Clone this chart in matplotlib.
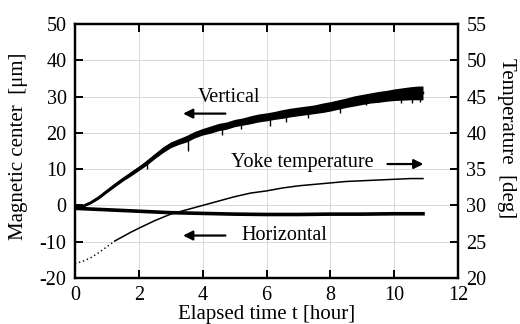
import numpy as np
import matplotlib.pyplot as plt

plt.rcParams['font.family'] = ['Liberation Serif', 'DejaVu Serif']
plt.rcParams['axes.unicode_minus'] = False

# elapsed time [hour]
t_vert = [0, 0.25, 0.5, 0.75, 1.0, 1.25, 1.5, 1.75, 2.0, 2.25, 2.5, 2.75, 3.0, 3.25,
          3.5, 3.75, 4.0, 4.25, 4.5, 4.75, 5.0, 5.25, 5.5, 5.75, 6.0, 6.25, 6.5, 6.75,
          7.0, 7.25, 7.5, 7.75, 8.0, 8.25, 8.5, 8.75, 9.0, 9.25, 9.5, 9.75, 10.0,
          10.25, 10.5, 10.75, 10.9]
vertical = [-0.5, -0.2, 0.8, 2.2, 3.9, 5.6, 7.2, 8.7, 10.2, 11.8, 13.6, 15.3, 16.7, 17.6,
            18.4, 19.5, 20.3, 20.9, 21.6, 22.0, 22.7, 23.1, 23.6, 24.1, 24.4, 24.8, 25.2, 25.6,
            25.9, 26.2, 26.5, 26.9, 27.3, 27.8, 28.3, 28.8, 29.2, 29.6, 29.9, 30.2, 30.5,
            30.7, 30.9, 31.0, 31.0]
vert_spread = [0.3, 0.3, 0.3, 0.4, 0.4, 0.5, 0.5, 0.6, 0.6, 0.7, 0.7, 0.8, 0.8, 0.8,
               0.9, 0.9, 0.9, 1.0, 1.0, 1.0, 1.0, 1.0, 1.1, 1.1, 1.1, 1.1, 1.2, 1.2,
               1.2, 1.2, 1.2, 1.3, 1.3, 1.3, 1.3, 1.4, 1.4, 1.4, 1.5, 1.5, 1.6,
               1.7, 1.8, 1.9, 1.9]
# downward spikes in the vertical signal
spike_t = [2.25, 3.55, 4.6, 5.2, 6.1, 6.6, 7.3, 8.3, 9.1, 10.2, 10.55, 10.8]
spike_low = [10.0, 15.0, 19.5, 21.0, 21.8, 23.0, 24.2, 25.4, 27.6, 28.3, 28.1, 28.4]

t_horiz = [0, 1, 2, 3, 4, 5, 6, 7, 8, 9, 10, 10.9]
horizontal = [-0.8, -1.2, -1.6, -2.0, -2.2, -2.4, -2.5, -2.5, -2.4, -2.4, -2.3, -2.3]

t_temp_early = [0, 0.25, 0.5, 0.75, 1.0, 1.25]
temp_early = [22.0, 22.3, 22.8, 23.5, 24.3, 25.1]
t_temp = [1.25, 1.5, 1.75, 2.0, 2.5, 3.0, 3.5, 4.0, 4.5, 5.0, 5.5, 6.0, 6.5, 7.0,
          7.5, 8.0, 8.5, 9.0, 9.5, 10.0, 10.5, 10.9]
temp = [25.1, 25.7, 26.3, 26.85, 27.9, 28.8, 29.4, 30.0, 30.6, 31.2, 31.7, 32.0, 32.4, 32.7,
        32.9, 33.1, 33.3, 33.4, 33.5, 33.6, 33.7, 33.7]

fig = plt.figure(figsize=(5.2, 3.24), dpi=100)
ax = fig.add_axes([0.144, 0.142, 0.737, 0.784])
ax2 = ax.twinx()

v = np.array(vertical)
s = np.array(vert_spread)
ax.fill_between(t_vert, v - s, v + s, color='black', lw=0)
ax.plot(t_vert, vertical, color='black', lw=1.8)
base = np.interp(spike_t, t_vert, vertical)
ax.vlines(spike_t, spike_low, base, color='black', lw=1.0)
ax.plot(t_horiz, horizontal, color='black', lw=2.6)

ax2.plot(t_temp_early, temp_early, color='black', lw=1.0, ls=(0, (1, 2)))
ax2.plot(t_temp, temp, color='black', lw=1.1)

ax.set_xlim(0, 12)
ax.set_ylim(-20, 50)
ax2.set_ylim(20, 55)
ax.set_xticks(range(0, 13, 2))
ax.set_yticks(range(-20, 51, 10))
ax2.set_yticks(range(20, 56, 5))

ax.grid(True, color='#d8d8d8', lw=0.7)
ax.set_axisbelow(True)
for a in (ax, ax2):
    for sp in a.spines.values():
        sp.set_linewidth(1.6)
ax.tick_params(direction='in', length=6, width=1.4, labelsize=14.5, top=True, pad=6)
ax2.tick_params(direction='in', length=6, width=1.4, labelsize=14.5, pad=6)

ax.set_xlabel('Elapsed time t [hour]', fontsize=15, labelpad=0)
ax.set_ylabel('Magnetic center  [μm]', fontsize=15, va='center')
ax.yaxis.set_label_coords(-0.148, 0.52)
ax2.set_ylabel('Temperature  [deg]', fontsize=15, rotation=-90, va='center')
ax2.yaxis.set_label_coords(1.125, 0.55)

arrow = dict(arrowstyle='-|>', color='black', lw=1.6, mutation_scale=14)
ax.text(3.85, 29.8, 'Vertical', fontsize=14.5, va='center')
ax.annotate('', xy=(3.3, 25.3), xytext=(4.8, 25.3), arrowprops=arrow)
ax.text(4.9, 11.8, 'Yoke temperature', fontsize=14.5, va='center')
ax.annotate('', xy=(11.0, 11.4), xytext=(9.7, 11.4), arrowprops=arrow)
ax.text(5.2, -8.3, 'Horizontal', fontsize=14.5, va='center')
ax.annotate('', xy=(3.3, -8.3), xytext=(4.8, -8.3), arrowprops=arrow)

fig.savefig('out.png', dpi=100)
